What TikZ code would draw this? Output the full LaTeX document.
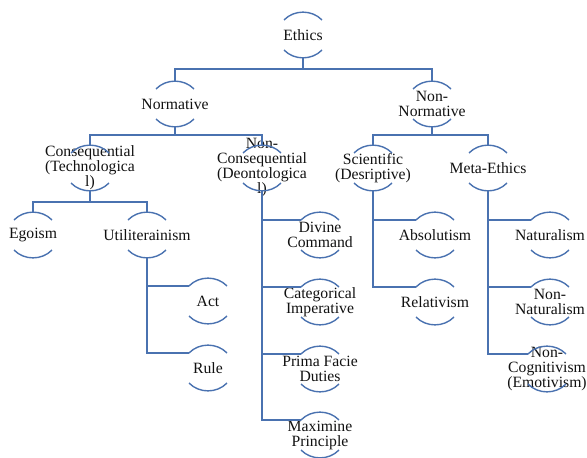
\documentclass[tikz,border=0pt]{standalone}
\usepackage{fontspec}
\setmainfont{Liberation Serif}
\definecolor{lineblue}{HTML}{4A72B0}
\definecolor{txt}{HTML}{111111}
\tikzset{
  enode/.style={inner sep=0pt, align=center, font=\fontsize{15.7}{15}\selectfont, text=txt, minimum width=38pt, minimum height=46pt},
  conn/.style={draw=lineblue, line width=2pt},
  arcline/.style={draw=lineblue, line width=1.4pt},
}
\begin{document}
\begin{tikzpicture}[x=1pt,y=-1pt]
\useasboundingbox (0,0) rectangle (587,458);
% nodes
\node[enode] (ethics) at (303,35) {Ethics};
\node[enode] (norm) at (175,104) {Normative};
\node[enode] (nonnorm) at (432,104) {Non-\\Normative};
\node[enode] (cons) at (90,168) {Consequential\\(Technologica\\l)};
\node[enode] (noncons) at (262,168) {Non-\\Consequential\\(Deontologica\\l)};
\node[enode] (sci) at (373,168) {Scientific\\(Desriptive)};
\node[enode] (meta) at (488,168) {Meta-Ethics};
\node[enode] (ego) at (33,235) {Egoism};
\node[enode] (util) at (147,235) {Utiliterainism};
\node[enode] (act) at (208,301) {Act};
\node[enode] (rule) at (208,368) {Rule};
\node[enode] (div) at (320,235) {Divine\\Command};
\node[enode] (cat) at (320,302) {Categorical\\Imperative};
\node[enode] (prima) at (320,369) {Prima Facie\\Duties};
\node[enode] (maxi) at (320,435) {Maximine\\Principle};
\node[enode] (abs) at (435,235) {Absolutism};
\node[enode] (rel) at (435,302) {Relativism};
\node[enode] (nat) at (550,235) {Naturalism};
\node[enode] (nonnat) at (550,302) {Non-\\Naturalism};
\node[enode] (noncog) at (547,369) {Non-\\Cognitivism\\(Emotivism)};
% arcs and anchor points
\foreach \n in {ethics,norm,nonnorm,cons,noncons,sci,meta,ego,util,act,rule,div,cat,prima,maxi,abs,rel,nat,nonnat,noncog}{
  \coordinate (\n-t) at ([yshift=23pt]\n.center);
  \coordinate (\n-b) at ([yshift=-23pt]\n.center);
  \coordinate (\n-l) at ([shift={(-19pt,15pt)}]\n.center);
  \draw[arcline] (\n-l) .. controls ([shift={(-9pt,25.5pt)}]\n.center) and ([shift={(9pt,25.5pt)}]\n.center) .. ([shift={(19pt,15pt)}]\n.center);
  \draw[arcline] ([shift={(-19pt,-15pt)}]\n.center) .. controls ([shift={(-9pt,-25.5pt)}]\n.center) and ([shift={(9pt,-25.5pt)}]\n.center) .. ([shift={(19pt,-15pt)}]\n.center);
}
% connectors
\draw[conn] (norm-t) -- ++(0,-12) -| (ethics-b);
\draw[conn] (nonnorm-t) -- ++(0,-12) -| (ethics-b);
\draw[conn] (cons-t) -- ++(0,-10) -| (norm-b);
\draw[conn] (noncons-t) -- ++(0,-10) -| (norm-b);
\draw[conn] (sci-t) -- ++(0,-10) -| (nonnorm-b);
\draw[conn] (meta-t) -- ++(0,-10) -| (nonnorm-b);
\draw[conn] (ego-t) -- ++(0,-10) -| (cons-b);
\draw[conn] (util-t) -- ++(0,-10) -| (cons-b);
\draw[conn] (util-b) |- (act-l);
\draw[conn] (util-b) |- (rule-l);
\draw[conn] (noncons-b) |- (div-l);
\draw[conn] (noncons-b) |- (cat-l);
\draw[conn] (noncons-b) |- (prima-l);
\draw[conn] (noncons-b) |- (maxi-l);
\draw[conn] (sci-b) |- (abs-l);
\draw[conn] (sci-b) |- (rel-l);
\draw[conn] (meta-b) |- (nat-l);
\draw[conn] (meta-b) |- (nonnat-l);
\draw[conn] (meta-b) |- (noncog-l);
\end{tikzpicture}
\end{document}
